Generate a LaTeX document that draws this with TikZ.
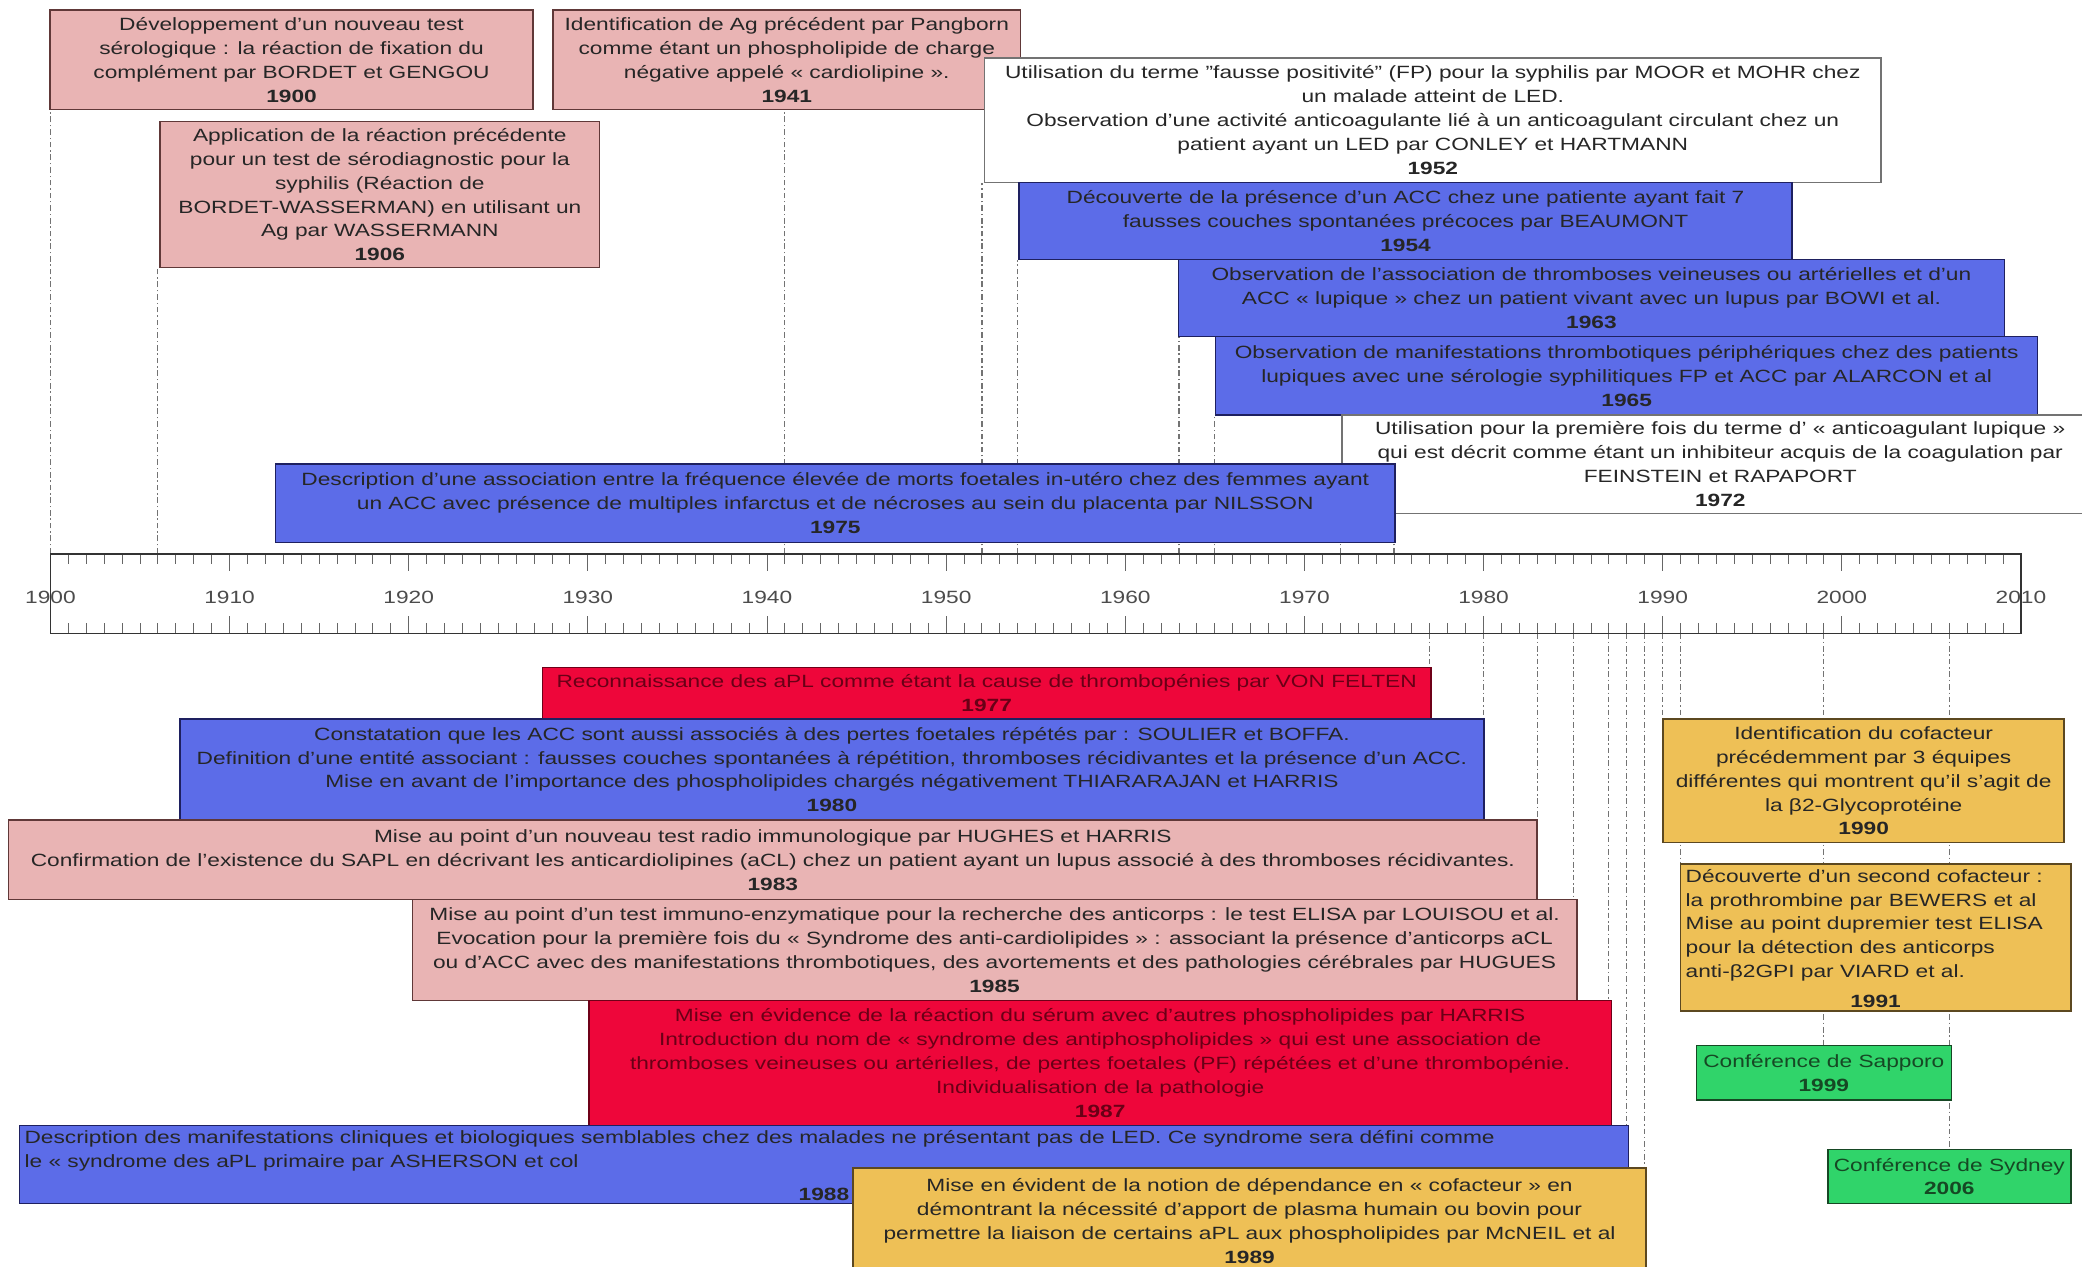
\documentclass[tikz,border=0pt]{standalone}
\usepackage{fontspec}
\setmainfont{Liberation Sans}[FakeStretch=1.28]
\usetikzlibrary{backgrounds}

\definecolor{aplpink}{RGB}{233,180,180}
\definecolor{aplblue}{RGB}{92,108,232}
\definecolor{aplred}{RGB}{238,6,58}
\definecolor{aplorange}{RGB}{238,192,86}
\definecolor{aplgreen}{RGB}{48,212,106}
\definecolor{aplpinkline}{RGB}{96,56,56}
\definecolor{aplblueline}{RGB}{30,32,96}
\definecolor{aplredline}{RGB}{110,0,24}
\definecolor{aplorangeline}{RGB}{92,72,32}
\definecolor{aplgreenline}{RGB}{22,72,36}
\definecolor{aplredtext}{RGB}{105,0,22}

\newlength{\pxu}
\setlength{\pxu}{0.025cm}
\newcommand{\evtfont}{\fontsize{9.5}{12.8}\selectfont}

\tikzset{
  evtbox/.style={draw, line width=0.8pt, anchor=north west, inner xsep=2pt, inner ysep=1pt, align=center, font=\evtfont, text=black!85},
  boxsize/.style 2 args={minimum width=#1*\pxu, minimum height=#2*\pxu},
  pinkbox/.style={evtbox, fill=aplpink, draw=aplpinkline},
  bluebox/.style={evtbox, fill=aplblue, draw=aplblueline},
  redbox/.style={evtbox, fill=aplred, draw=aplredline, text=aplredtext},
  orangebox/.style={evtbox, fill=aplorange, draw=aplorangeline},
  greenbox/.style={evtbox, fill=aplgreen, draw=aplgreenline, text=aplgreenline},
  whitebox/.style={evtbox, fill=white, draw=black!55},
  evttext/.style={font=\evtfont, inner sep=1pt, text=black!85},
  guide/.style={draw=black!55, line width=0.6pt, dash pattern=on 3pt off 1.5pt on 0.8pt off 1.5pt},
  rulerline/.style={draw=black!80, line width=0.9pt},
  tickmark/.style={draw=black!60, line width=0.5pt},
  yearlbl/.style={font=\evtfont, text=black!70, inner sep=0pt}
}

\begin{document}
\begin{tikzpicture}[x=0.025cm, y=-0.025cm]
\useasboundingbox (0,0) rectangle (1568,954);

% ruler
\foreach \yy in {1900,...,2010}{
  \coordinate (t\yy) at ({38+(\yy-1900)*13.491},417);
  \coordinate (b\yy) at ({38+(\yy-1900)*13.491},477);
}
\foreach \yy in {1901,...,2009}
  \draw[tickmark] (t\yy) -- ++(0,8) (b\yy) -- ++(0,-8);
\foreach \yy in {1910,1920,...,2000}
  \draw[tickmark] (t\yy) -- ++(0,13) (b\yy) -- ++(0,-13);
\draw[rulerline] (t1900) -- (t2010) -- (b2010) -- (b1900) -- cycle;
\foreach \yy in {1900,1910,...,2010}
  \node[yearlbl] (lbl\yy) at (t\yy |- 0,450) {\yy};

% above the ruler
\node[pinkbox, boxsize={364}{75}] (e1900) at (37,7)
  {Développement d'un nouveau test\\sérologique : la réaction de fixation du\\complément par BORDET et GENGOU\\\textbf{1900}};
\node[pinkbox, boxsize={331}{110}] (e1906) at (120,91)
  {Application de la réaction précédente\\pour un test de sérodiagnostic pour la\\syphilis (Réaction de\\BORDET-WASSERMAN) en utilisant un\\Ag par WASSERMANN\\\textbf{1906}};
\node[pinkbox, boxsize={352}{75}] (e1941) at (416,7)
  {Identification de Ag précédent par Pangborn\\comme étant un phospholipide de charge\\négative appelé « cardiolipine ».\\\textbf{1941}};
\node[whitebox, boxsize={675}{94}] (e1952) at (741,43)
  {Utilisation du terme "fausse positivité" (FP) pour la syphilis par MOOR et MOHR chez\\un malade atteint de LED.\\Observation d'une activité anticoagulante lié à un anticoagulant circulant chez un\\patient ayant un LED par CONLEY et HARTMANN\\\textbf{1952}};
\node[bluebox, boxsize={582}{58}] (e1954) at (767,137)
  {Découverte de la présence d'un ACC chez une patiente ayant fait 7\\fausses couches spontanées précoces par BEAUMONT\\\textbf{1954}};
\node[bluebox, boxsize={622}{58}] (e1963) at (887,195)
  {Observation de l'association de thromboses veineuses ou artérielles et d'un\\ACC « lupique » chez un patient vivant avec un lupus par BOWI et al.\\\textbf{1963}};
\node[bluebox, boxsize={619}{59}] (e1965) at (915,253)
  {Observation de manifestations thrombotiques périphériques chez des patients\\lupiques avec une sérologie syphilitiques FP et ACC par ALARCON et al\\\textbf{1965}};
\node[whitebox, boxsize={570}{74}] (e1972) at (1010,312)
  {Utilisation pour la première fois du terme d' « anticoagulant lupique »\\qui est décrit comme étant un inhibiteur acquis de la coagulation par\\FEINSTEIN et RAPAPORT\\\textbf{1972}};
\node[bluebox, boxsize={843}{59}] (e1975) at (207,349)
  {Description d'une association entre la fréquence élevée de morts foetales in-utéro chez des femmes ayant\\un ACC avec présence de multiples infarctus et de nécroses au sein du placenta par NILSSON\\\textbf{1975}};

% below the ruler
\node[redbox, boxsize={669}{39}] (e1977) at (408,502)
  {Reconnaissance des aPL comme étant la cause de thrombopénies par VON FELTEN\\\textbf{1977}};
\node[bluebox, boxsize={982}{76}] (e1980) at (135,541)
  {Constatation que les ACC sont aussi associés à des pertes foetales répétés par : SOULIER et BOFFA.\\Definition d'une entité associant : fausses couches spontanées à répétition, thromboses récidivantes et la présence d'un ACC.\\Mise en avant de l'importance des phospholipides chargés négativement THIARARAJAN et HARRIS\\\textbf{1980}};
\node[pinkbox, boxsize={1151}{60}] (e1983) at (6,617)
  {Mise au point d'un nouveau test radio immunologique par HUGHES et HARRIS\\Confirmation de l'existence du SAPL en décrivant les anticardiolipines (aCL) chez un patient ayant un lupus associé à des thromboses récidivantes.\\\textbf{1983}};
\node[pinkbox, boxsize={877}{76}] (e1985) at (310,677)
  {Mise au point d'un test immuno-enzymatique pour la recherche des anticorps : le test ELISA par LOUISOU et al.\\Evocation pour la première fois du « Syndrome des anti-cardiolipides » : associant la présence d'anticorps aCL\\ou d'ACC avec des manifestations thrombotiques, des avortements et des pathologies cérébrales par HUGUES\\\textbf{1985}};
\node[redbox, boxsize={770}{94}] (e1987) at (443,753)
  {Mise en évidence de la réaction du sérum avec d'autres phospholipides par HARRIS\\Introduction du nom de « syndrome des antiphospholipides » qui est une association de\\thromboses veineuses ou artérielles, de pertes foetales (PF) répétées et d'une thrombopénie.\\Individualisation de la pathologie\\\textbf{1987}};
\node[bluebox, boxsize={1212}{59}] (e1988) at (14,847) {};
\node[evttext, anchor=north west, align=left] (e1988txt) at ([shift={(2pt,-2pt)}]e1988.north west)
  {Description des manifestations cliniques et biologiques semblables chez des malades ne présentant pas de LED. Ce syndrome sera défini comme\\le « syndrome des aPL primaire par ASHERSON et col};
\node[evttext, anchor=south] (e1988yr) at ([yshift=1pt]e1988.south) {\textbf{1988}};
\node[orangebox, boxsize={597}{80}] (e1989) at (642,879)
  {Mise en évident de la notion de dépendance en « cofacteur » en\\démontrant la nécessité d'apport de plasma humain ou bovin pour\\permettre la liaison de certains aPL aux phospholipides par McNEIL et al\\\textbf{1989}};
\node[orangebox, boxsize={302}{93}] (e1990) at (1252,541)
  {Identification du cofacteur\\précédemment par 3 équipes\\différentes qui montrent qu'il s'agit de\\la β2-Glycoprotéine\\\textbf{1990}};
\node[orangebox, boxsize={294}{111}] (e1991) at (1265,650) {};
\node[evttext, anchor=north west, align=left] (e1991txt) at ([shift={(2pt,-2pt)}]e1991.north west)
  {Découverte d'un second cofacteur :\\la prothrombine par BEWERS et al\\Mise au point dupremier test ELISA\\pour la détection des anticorps\\anti-β2GPI par VIARD et al.};
\node[evttext, anchor=south] (e1991yr) at ([yshift=1pt]e1991.south) {\textbf{1991}};
\node[greenbox, boxsize={192}{41}] (e1999) at (1277,787)
  {Conférence de Sapporo\\\textbf{1999}};
\node[greenbox, boxsize={183}{41}] (e2006) at (1376,865)
  {Conférence de Sydney\\\textbf{2006}};

% year guides
\begin{scope}[on background layer]
\fill[white] (0,0) rectangle (1568,954);
\foreach \yy in {1900,1906,1941,1952,1954,1963,1965,1972,1975}
  \draw[guide] (t\yy) -- (t\yy |- e\yy.south);
\foreach \yy in {1977,1980,1983,1985,1987,1988,1989,1990,1991,1999,2006}
  \draw[guide] (b\yy) -- (b\yy |- e\yy.north);
\end{scope}
\end{tikzpicture}
\end{document}
